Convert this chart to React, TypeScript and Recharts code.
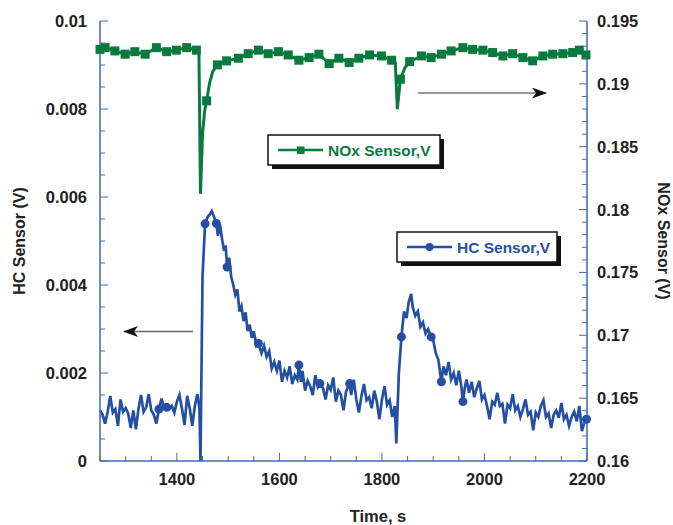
import React from 'react';
import { ComposedChart, Line, XAxis, YAxis } from 'recharts';

// HC sensor trace [time s, volts]
const hcSeries: [number, number][] = [
  [1250, 0.00115], [1255, 0.00105], [1260, 0.00085], [1265, 0.00112], [1270, 0.00148],
  [1275, 0.0011], [1280, 0.00118], [1285, 0.0008], [1290, 0.0014], [1295, 0.00112],
  [1300, 0.0012], [1305, 0.00108], [1310, 0.00075], [1315, 0.00115], [1320, 0.00072],
  [1325, 0.00118], [1330, 0.0015], [1335, 0.00112], [1340, 0.00122], [1345, 0.00152],
  [1350, 0.00115], [1355, 0.00105], [1360, 0.00085], [1365, 0.00118], [1370, 0.00142],
  [1375, 0.0012], [1380, 0.00122], [1385, 0.00118], [1390, 0.00125], [1395, 0.0011],
  [1400, 0.00135], [1405, 0.0015], [1410, 0.00118], [1415, 0.00082], [1420, 0.00148],
  [1425, 0.0012], [1430, 0.0008], [1435, 0.00125], [1440, 0.00152], [1444, 0.0012],
  [1446, 0.0], [1450, 0.0042], [1455, 0.00539], [1460, 0.00555], [1464, 0.0056],
  [1468, 0.00568], [1472, 0.00556], [1477, 0.0054], [1480, 0.00512], [1484, 0.00538],
  [1488, 0.00505], [1492, 0.00478], [1495, 0.0049], [1498, 0.00441], [1502, 0.00462],
  [1506, 0.00418], [1510, 0.004], [1514, 0.00378], [1518, 0.0039], [1522, 0.0034],
  [1526, 0.00352], [1530, 0.00318], [1534, 0.00338], [1538, 0.00295], [1542, 0.0031],
  [1546, 0.0028], [1550, 0.00295], [1555, 0.00262], [1559, 0.00267], [1565, 0.00245],
  [1570, 0.00262], [1575, 0.00237], [1580, 0.0025], [1585, 0.0021], [1590, 0.00225],
  [1595, 0.00205], [1600, 0.00228], [1605, 0.0018], [1610, 0.00205], [1615, 0.0019],
  [1620, 0.00215], [1625, 0.00175], [1630, 0.00195], [1635, 0.00185], [1638, 0.00218],
  [1642, 0.0018], [1645, 0.00205], [1650, 0.0016], [1655, 0.00182], [1660, 0.0017],
  [1665, 0.0015], [1670, 0.00195], [1675, 0.00168], [1679, 0.00176], [1685, 0.00165],
  [1690, 0.0014], [1695, 0.00172], [1700, 0.00162], [1705, 0.0019], [1710, 0.00135],
  [1715, 0.0016], [1720, 0.0015], [1725, 0.00115], [1730, 0.00158], [1737, 0.00176],
  [1740, 0.0015], [1745, 0.00185], [1750, 0.0014], [1755, 0.0011], [1760, 0.00148],
  [1765, 0.00175], [1770, 0.00138], [1775, 0.00145], [1780, 0.0012], [1785, 0.0016],
  [1790, 0.00135], [1795, 0.00095], [1800, 0.0014], [1805, 0.0017], [1810, 0.00128],
  [1815, 0.00138], [1820, 0.001], [1825, 0.00125], [1828, 0.0004], [1833, 0.002],
  [1838, 0.00282], [1843, 0.0034], [1848, 0.00325], [1852, 0.0036], [1857, 0.0038],
  [1860, 0.0035], [1865, 0.0033], [1870, 0.0034], [1875, 0.00305], [1880, 0.00315],
  [1885, 0.0029], [1890, 0.003], [1896, 0.00282], [1900, 0.00275], [1905, 0.00245],
  [1910, 0.0023], [1916, 0.0018], [1920, 0.00215], [1925, 0.00195], [1930, 0.00225],
  [1935, 0.00185], [1940, 0.002], [1945, 0.00172], [1950, 0.00205], [1955, 0.00168],
  [1958, 0.00135], [1962, 0.0017], [1965, 0.00185], [1970, 0.00155], [1975, 0.0018],
  [1980, 0.00145], [1985, 0.00165], [1990, 0.00182], [1995, 0.0014], [2000, 0.0015],
  [2005, 0.00125], [2010, 0.00095], [2015, 0.00135], [2020, 0.00128], [2025, 0.00155],
  [2030, 0.00125], [2035, 0.0013], [2040, 0.00085], [2045, 0.00128], [2050, 0.0012],
  [2055, 0.00152], [2060, 0.00115], [2065, 0.00125], [2070, 0.001], [2075, 0.00118],
  [2080, 0.0014], [2085, 0.00105], [2090, 0.00112], [2095, 0.0007], [2100, 0.0011],
  [2105, 0.001], [2110, 0.00125], [2115, 0.00138], [2120, 0.001], [2125, 0.00108],
  [2130, 0.00075], [2135, 0.00105], [2140, 0.00115], [2145, 0.00098], [2150, 0.00132],
  [2155, 0.00095], [2160, 0.00105], [2165, 0.0008], [2170, 0.001], [2175, 0.00112],
  [2180, 0.0009], [2185, 0.00125], [2190, 0.00068], [2195, 0.00088], [2199, 0.00095],
];
const hcMarkerTimes = [1365, 1380, 1455, 1477, 1498, 1559, 1638, 1679, 1737, 1838, 1896, 1916, 1958, 2199];

// NOx sensor trace [time s, volts]
const noxSeries: [number, number][] = [
  [1250, 0.19274], [1260, 0.19288], [1279, 0.19262], [1299, 0.19236], [1318, 0.19256],
  [1338, 0.19236], [1360, 0.19288], [1380, 0.19256], [1399, 0.19268], [1419, 0.19288],
  [1438, 0.19268], [1443, 0.1925], [1446, 0.18125], [1450, 0.186], [1454, 0.1878],
  [1458, 0.18865], [1464, 0.1901], [1470, 0.191], [1479, 0.19151], [1497, 0.19183],
  [1520, 0.19204], [1539, 0.1924], [1559, 0.19268], [1578, 0.1924], [1598, 0.19256],
  [1617, 0.1923], [1638, 0.19188], [1658, 0.19209], [1677, 0.19236], [1697, 0.19161],
  [1716, 0.19204], [1736, 0.1917], [1755, 0.19204], [1776, 0.1923], [1799, 0.19222],
  [1819, 0.19188], [1826, 0.1917], [1830, 0.18799], [1836, 0.19037], [1845, 0.1913],
  [1854, 0.19177], [1877, 0.19222], [1896, 0.19209], [1916, 0.19236], [1935, 0.19262],
  [1958, 0.19288], [1977, 0.19274], [1997, 0.19268], [2016, 0.19249], [2036, 0.19222],
  [2055, 0.1924], [2075, 0.19209], [2094, 0.19183], [2114, 0.19222], [2133, 0.19236],
  [2153, 0.1924], [2172, 0.19249], [2185, 0.19268], [2198, 0.1923],
];
const noxMarkerTimes = [
  1250, 1260, 1279, 1299, 1318, 1338, 1360, 1380, 1399, 1419, 1438, 1458, 1479, 1497,
  1520, 1539, 1559, 1578, 1598, 1617, 1638, 1658, 1677, 1697, 1716, 1736, 1755, 1776,
  1799, 1819, 1836, 1854, 1877, 1896, 1916, 1935, 1958, 1977, 1997, 2016, 2036, 2055,
  2075, 2094, 2114, 2133, 2153, 2172, 2185, 2198,
];

const timeTicks = [
  1250, 1300, 1350, 1400, 1450, 1500, 1550, 1600, 1650, 1700, 1750, 1800, 1850, 1900,
  1950, 2000, 2050, 2100, 2150, 2200,
];
const timeLabels = [1400, 1600, 1800, 2000, 2200];
const hcTicks = [
  0, 0.0005, 0.001, 0.0015, 0.002, 0.0025, 0.003, 0.0035, 0.004, 0.0045, 0.005,
  0.0055, 0.006, 0.0065, 0.007, 0.0075, 0.008, 0.0085, 0.009, 0.0095, 0.01,
];
const hcLabels = ['0', '0.002', '0.004', '0.006', '0.008', '0.01'];
const noxTicks = [
  0.16, 0.161, 0.162, 0.163, 0.164, 0.165, 0.166, 0.167, 0.168, 0.169, 0.17, 0.171,
  0.172, 0.173, 0.174, 0.175, 0.176, 0.177, 0.178, 0.179, 0.18, 0.181, 0.182, 0.183,
  0.184, 0.185, 0.186, 0.187, 0.188, 0.189, 0.19, 0.191, 0.192, 0.193, 0.194, 0.195,
];
const noxLabels = ['0.16', '0.165', '0.17', '0.175', '0.18', '0.185', '0.19', '0.195'];

const hcData = hcSeries.map(([t, v]) => ({ t, v }));
const noxData = noxSeries.map(([t, v]) => ({ t, v }));

const HC_COLOR = '#2350a3';
const NOX_COLOR = '#087a3e';
const AXIS_COLOR = '#4169b8';
const FONT = '"Liberation Sans", Arial, sans-serif';

const PLOT_LEFT = 100;
const PLOT_RIGHT = 587;
const PLOT_TOP = 21;
const PLOT_BOTTOM = 461;

const fmt = (v: number) => String(Number(v.toFixed(4)));

const BottomTick = (props: any) => {
  const x = props.payload.coordinate;
  const major = timeLabels.includes(props.payload.value);
  return (
    <g>
      <line x1={x} x2={x} y1={PLOT_BOTTOM} y2={PLOT_BOTTOM - (major ? 8 : 5)} stroke={AXIS_COLOR} strokeWidth={1} />
      {major && (
        <text x={x} y={PLOT_BOTTOM + 24} textAnchor="middle" fontFamily={FONT} fontWeight="bold" fontSize={16.5} fill="#222">
          {props.payload.value}
        </text>
      )}
    </g>
  );
};

const TopTick = (props: any) => {
  const x = props.payload.coordinate;
  const major = timeLabels.includes(props.payload.value);
  return <line x1={x} x2={x} y1={PLOT_TOP} y2={PLOT_TOP + (major ? 8 : 5)} stroke={AXIS_COLOR} strokeWidth={1} />;
};

const LeftTick = (props: any) => {
  const y = props.payload.coordinate;
  const label = fmt(props.payload.value);
  const major = hcLabels.includes(label);
  return (
    <g>
      <line x1={PLOT_LEFT} x2={PLOT_LEFT + (major ? 8 : 5)} y1={y} y2={y} stroke={AXIS_COLOR} strokeWidth={1} />
      {major && (
        <text x={PLOT_LEFT - 13} y={y + 6} textAnchor="end" fontFamily={FONT} fontWeight="bold" fontSize={16.5} fill="#222">
          {label}
        </text>
      )}
    </g>
  );
};

const RightTick = (props: any) => {
  const y = props.payload.coordinate;
  const label = fmt(props.payload.value);
  const major = noxLabels.includes(label);
  return (
    <g>
      <line x1={PLOT_RIGHT} x2={PLOT_RIGHT - (major ? 8 : 5)} y1={y} y2={y} stroke={AXIS_COLOR} strokeWidth={1} />
      {major && (
        <text x={PLOT_RIGHT + 10} y={y + 6} textAnchor="start" fontFamily={FONT} fontWeight="bold" fontSize={16.5} fill="#222">
          {label}
        </text>
      )}
    </g>
  );
};

const hcDot = (props: any) => {
  const { cx, cy, payload, index } = props;
  if (!hcMarkerTimes.includes(payload.t)) return <g key={`hc-${index}`} />;
  return <circle key={`hc-${index}`} cx={cx} cy={cy} r={4.5} fill={HC_COLOR} stroke="none" />;
};

const noxDot = (props: any) => {
  const { cx, cy, payload, index } = props;
  if (!noxMarkerTimes.includes(payload.t)) return <g key={`nox-${index}`} />;
  return <rect key={`nox-${index}`} x={cx - 4.5} y={cy - 4.5} width={9} height={9} fill={NOX_COLOR} stroke="none" />;
};

function Overlay() {
  return (
    <svg width={673} height={525} style={{ position: 'absolute', left: 0, top: 0, pointerEvents: 'none' }}>
      <defs>
        <marker id="ah" markerWidth="15" markerHeight="11" refX="14" refY="5.5" orient="auto" markerUnits="userSpaceOnUse">
          <path d="M0,0 L15,5.5 L0,11 L4,5.5 Z" fill="#111" />
        </marker>
      </defs>
      {/* arrows pointing to the owning axis */}
      <line x1={193} y1={331.5} x2={124} y2={331.5} stroke="#666" strokeWidth={1.4} markerEnd="url(#ah)" />
      <line x1={418} y1={93} x2={546} y2={93} stroke="#333" strokeWidth={1.2} markerEnd="url(#ah)" />

      {/* NOx legend */}
      <rect x={272} y={139} width={172} height={30} fill="#111" />
      <rect x={268} y={135} width={172} height={30} fill="#fff" stroke="#111" strokeWidth={1.5} />
      <line x1={278} x2={323} y1={150} y2={150} stroke={NOX_COLOR} strokeWidth={2.5} />
      <rect x={297} y={146.5} width={7.5} height={7.5} fill={NOX_COLOR} />
      <text x={328} y={156} fontFamily={FONT} fontWeight="bold" fontSize={15.5} fill={NOX_COLOR}>NOx Sensor,V</text>

      {/* HC legend */}
      <rect x={401} y={236} width={160} height={30} fill="#111" />
      <rect x={397} y={232} width={160} height={30} fill="#fff" stroke="#111" strokeWidth={1.5} />
      <line x1={407} x2={452} y1={247} y2={247} stroke={HC_COLOR} strokeWidth={2.5} />
      <circle cx={429.5} cy={247} r={4} fill={HC_COLOR} />
      <text x={457} y={253} fontFamily={FONT} fontWeight="bold" fontSize={15.5} fill={HC_COLOR}>HC Sensor,V</text>

      {/* axis titles */}
      <text x={0} y={0} transform={`translate(25, ${(PLOT_TOP + PLOT_BOTTOM) / 2}) rotate(-90)`} textAnchor="middle"
        fontFamily={FONT} fontWeight="bold" fontSize={16} fill="#222">HC Sensor (V)</text>
      <text x={0} y={0} transform={`translate(658, ${(PLOT_TOP + PLOT_BOTTOM) / 2}) rotate(90)`} textAnchor="middle"
        fontFamily={FONT} fontWeight="bold" fontSize={16} fill="#222">NOx Sensor (V)</text>
      <text x={378} y={522} textAnchor="middle" fontFamily={FONT} fontWeight="bold" fontSize={16.5} fill="#222">Time, s</text>
    </svg>
  );
}

export default function App() {
  return (
    <div style={{ position: 'absolute', left: 0, top: 0, width: 673, height: 525, background: '#fff' }}>
      <ComposedChart width={673} height={525} margin={{ top: PLOT_TOP, right: 0, bottom: 0, left: 0 }}>
        <XAxis
          xAxisId="b" dataKey="t" type="number" domain={[1250, 2200]} ticks={timeTicks} interval={0}
          height={525 - PLOT_BOTTOM} tickLine={false}
          tick={<BottomTick />} axisLine={{ stroke: AXIS_COLOR, strokeWidth: 1.5 }}
        />
        <XAxis
          xAxisId="top" orientation="top" dataKey="t" type="number" domain={[1250, 2200]} ticks={timeTicks}
          interval={0} height={0} tickLine={false} tick={<TopTick />}
          axisLine={{ stroke: AXIS_COLOR, strokeWidth: 1.5 }}
        />
        <YAxis
          yAxisId="hc" type="number" domain={[0, 0.01]} ticks={hcTicks} interval={0} width={PLOT_LEFT}
          tickLine={false} tick={<LeftTick />} axisLine={{ stroke: AXIS_COLOR, strokeWidth: 1.5 }}
        />
        <YAxis
          yAxisId="nox" orientation="right" type="number" domain={[0.16, 0.195]} ticks={noxTicks} interval={0}
          width={673 - PLOT_RIGHT} tickLine={false} tick={<RightTick />}
          axisLine={{ stroke: AXIS_COLOR, strokeWidth: 1.5 }}
        />
        <Line
          data={noxData} xAxisId="b" yAxisId="nox" dataKey="v" type="linear" stroke={NOX_COLOR}
          strokeWidth={3} dot={noxDot} activeDot={false} isAnimationActive={false}
        />
        <Line
          data={hcData} xAxisId="b" yAxisId="hc" dataKey="v" type="linear" stroke={HC_COLOR}
          strokeWidth={2.7} dot={hcDot} activeDot={false} isAnimationActive={false}
        />
      </ComposedChart>
      <Overlay />
    </div>
  );
}
